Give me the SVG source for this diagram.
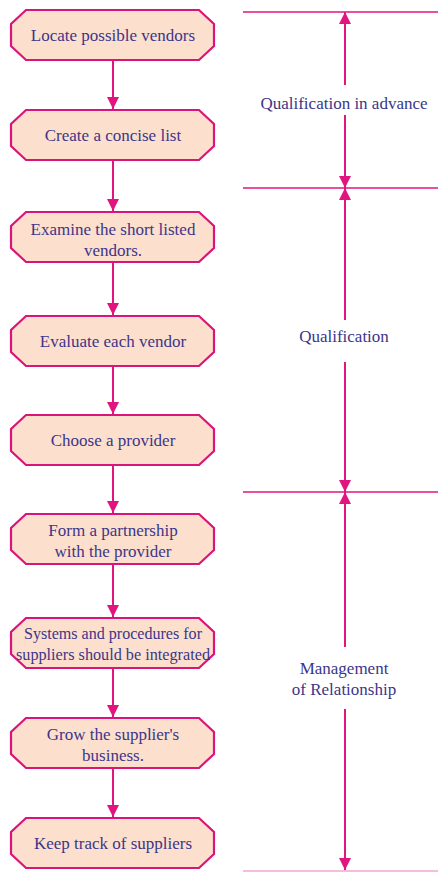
<svg xmlns="http://www.w3.org/2000/svg" width="438" height="872" viewBox="0 0 438 872">
<style>
.box{fill:#fddfcd;stroke:#d9147a;stroke-width:2.2;stroke-linejoin:miter}
text{font-family:'Liberation Serif','Times New Roman',serif;font-size:17px;fill:#3b3689;text-anchor:middle}
.ln{stroke:#e0157f;stroke-width:2;fill:none}
.hl{stroke:#e0157f;stroke-width:1.6;fill:none}
</style>
<defs>
<marker id="ah" viewBox="0 0 10 10" refX="10" refY="5" markerUnits="userSpaceOnUse" markerWidth="13" markerHeight="12" orient="auto">
<path d="M0,0 L10,5 L0,10 Z" fill="#e0157f"/>
</marker>
</defs>
<rect width="438" height="872" fill="#ffffff"/>
<g id="n1"><path class="box" d="M26,10 L199,10 L214,24 L214,46 L199,60 L26,60 L11,46 L11,24 Z"/><text x="113" y="41">Locate possible vendors</text></g>
<g id="n2"><path class="box" d="M26,110 L199,110 L214,124 L214,146 L199,160 L26,160 L11,146 L11,124 Z"/><text x="113" y="141">Create a concise list</text></g>
<g id="n3"><path class="box" d="M26,212 L199,212 L214,226 L214,248 L199,262 L26,262 L11,248 L11,226 Z"/><text x="113" y="235">Examine the short listed</text><text x="113" y="256">vendors.</text></g>
<g id="n4"><path class="box" d="M26,316 L199,316 L214,330 L214,352 L199,366 L26,366 L11,352 L11,330 Z"/><text x="113" y="347">Evaluate each vendor</text></g>
<g id="n5"><path class="box" d="M26,415 L199,415 L214,429 L214,451 L199,465 L26,465 L11,451 L11,429 Z"/><text x="113" y="446">Choose a provider</text></g>
<g id="n6"><path class="box" d="M26,514 L199,514 L214,528 L214,550 L199,564 L26,564 L11,550 L11,528 Z"/><text x="113" y="536">Form a partnership</text><text x="113" y="557">with the provider</text></g>
<g id="n7"><path class="box" d="M26,618 L199,618 L214,632 L214,654 L199,668 L26,668 L11,654 L11,632 Z"/><text x="113" y="639" textLength="178" lengthAdjust="spacingAndGlyphs">Systems and procedures for</text><text x="113" y="660" textLength="194" lengthAdjust="spacingAndGlyphs">suppliers should be integrated</text></g>
<g id="n8"><path class="box" d="M26,718 L199,718 L214,732 L214,754 L199,768 L26,768 L11,754 L11,732 Z"/><text x="113" y="740">Grow the supplier's</text><text x="113" y="761">business.</text></g>
<g id="n9"><path class="box" d="M26,818 L199,818 L214,832 L214,854 L199,868 L26,868 L11,854 L11,832 Z"/><text x="113" y="849">Keep track of suppliers</text></g>
<g id="connectors">
<line class="ln" x1="113" y1="60" x2="113" y2="109" marker-end="url(#ah)"/>
<line class="ln" x1="113" y1="160" x2="113" y2="211" marker-end="url(#ah)"/>
<line class="ln" x1="113" y1="262" x2="113" y2="315" marker-end="url(#ah)"/>
<line class="ln" x1="113" y1="366" x2="113" y2="414" marker-end="url(#ah)"/>
<line class="ln" x1="113" y1="465" x2="113" y2="513" marker-end="url(#ah)"/>
<line class="ln" x1="113" y1="564" x2="113" y2="617" marker-end="url(#ah)"/>
<line class="ln" x1="113" y1="668" x2="113" y2="717" marker-end="url(#ah)"/>
<line class="ln" x1="113" y1="768" x2="113" y2="817" marker-end="url(#ah)"/>
</g>
<g id="phases">
<line class="hl" x1="243" y1="12" x2="438" y2="12"/>
<line class="hl" x1="243" y1="188" x2="438" y2="188"/>
<line class="hl" x1="243" y1="492" x2="438" y2="492"/>
<line x1="243" y1="871" x2="438" y2="871" stroke="#f5a6d0" stroke-width="1.4"/>
<line class="ln" x1="345" y1="85" x2="345" y2="12" marker-end="url(#ah)"/>
<line class="ln" x1="345" y1="115" x2="345" y2="188" marker-end="url(#ah)"/>
<line class="ln" x1="345" y1="320" x2="345" y2="188" marker-end="url(#ah)"/>
<line class="ln" x1="345" y1="362" x2="345" y2="492" marker-end="url(#ah)"/>
<line class="ln" x1="345" y1="647" x2="345" y2="492" marker-end="url(#ah)"/>
<line class="ln" x1="345" y1="709" x2="345" y2="870" marker-end="url(#ah)"/>
<text x="344" y="109">Qualification in advance</text>
<text x="344" y="342">Qualification</text>
<text x="344" y="674">Management</text>
<text x="344" y="695">of Relationship</text>
</g>
</svg>
